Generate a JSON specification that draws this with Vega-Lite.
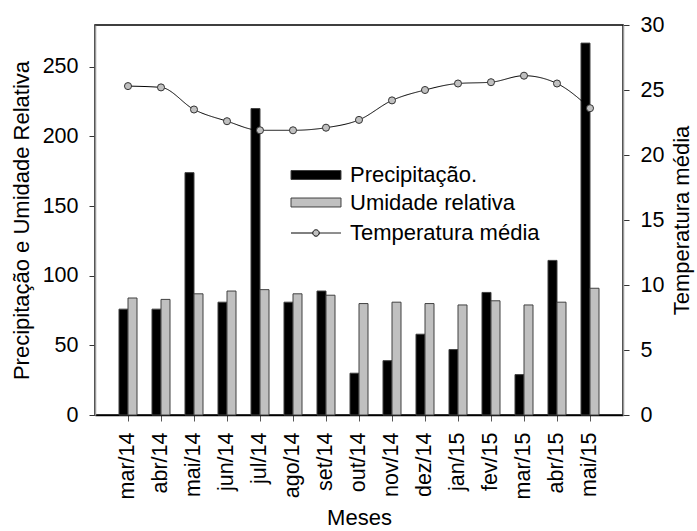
{
  "$schema": "https://vega.github.io/schema/vega-lite/v6.json",
  "width": 528,
  "height": 390,
  "autosize": {"type": "none"},
  "padding": {"left": 95, "top": 25, "right": 74, "bottom": 116},
  "background": "white",
  "config": {
    "font": "Liberation Sans",
    "view": {"stroke": "black", "strokeWidth": 1.5},
    "axis": {"labelFont": "Liberation Sans", "titleFont": "Liberation Sans", "labelFontSize": 21.5, "titleFontSize": 22, "titleFontWeight": "normal", "labelColor": "black", "titleColor": "black", "grid": false},
    "legend": {"labelFont": "Liberation Sans", "labelFontSize": 22, "labelColor": "black", "labelLimit": 0}
  },
  "datasets": {
    "bars": [
      {"mes": "mar/14", "serie": "Precipitação.", "valor": 76},
      {"mes": "mar/14", "serie": "Umidade relativa", "valor": 84},
      {"mes": "abr/14", "serie": "Precipitação.", "valor": 76},
      {"mes": "abr/14", "serie": "Umidade relativa", "valor": 83},
      {"mes": "mai/14", "serie": "Precipitação.", "valor": 174},
      {"mes": "mai/14", "serie": "Umidade relativa", "valor": 87},
      {"mes": "jun/14", "serie": "Precipitação.", "valor": 81},
      {"mes": "jun/14", "serie": "Umidade relativa", "valor": 89},
      {"mes": "jul/14", "serie": "Precipitação.", "valor": 220},
      {"mes": "jul/14", "serie": "Umidade relativa", "valor": 90},
      {"mes": "ago/14", "serie": "Precipitação.", "valor": 81},
      {"mes": "ago/14", "serie": "Umidade relativa", "valor": 87},
      {"mes": "set/14", "serie": "Precipitação.", "valor": 89},
      {"mes": "set/14", "serie": "Umidade relativa", "valor": 86},
      {"mes": "out/14", "serie": "Precipitação.", "valor": 30},
      {"mes": "out/14", "serie": "Umidade relativa", "valor": 80},
      {"mes": "nov/14", "serie": "Precipitação.", "valor": 39},
      {"mes": "nov/14", "serie": "Umidade relativa", "valor": 81},
      {"mes": "dez/14", "serie": "Precipitação.", "valor": 58},
      {"mes": "dez/14", "serie": "Umidade relativa", "valor": 80},
      {"mes": "jan/15", "serie": "Precipitação.", "valor": 47},
      {"mes": "jan/15", "serie": "Umidade relativa", "valor": 79},
      {"mes": "fev/15", "serie": "Precipitação.", "valor": 88},
      {"mes": "fev/15", "serie": "Umidade relativa", "valor": 82},
      {"mes": "mar/15", "serie": "Precipitação.", "valor": 29},
      {"mes": "mar/15", "serie": "Umidade relativa", "valor": 79},
      {"mes": "abr/15", "serie": "Precipitação.", "valor": 111},
      {"mes": "abr/15", "serie": "Umidade relativa", "valor": 81},
      {"mes": "mai/15", "serie": "Precipitação.", "valor": 267},
      {"mes": "mai/15", "serie": "Umidade relativa", "valor": 91}
    ],
    "temps": [
      {"mes": "mar/14", "serie": "Temperatura média", "temp": 25.3},
      {"mes": "abr/14", "serie": "Temperatura média", "temp": 25.2},
      {"mes": "mai/14", "serie": "Temperatura média", "temp": 23.5},
      {"mes": "jun/14", "serie": "Temperatura média", "temp": 22.6},
      {"mes": "jul/14", "serie": "Temperatura média", "temp": 21.9},
      {"mes": "ago/14", "serie": "Temperatura média", "temp": 21.9},
      {"mes": "set/14", "serie": "Temperatura média", "temp": 22.1},
      {"mes": "out/14", "serie": "Temperatura média", "temp": 22.7},
      {"mes": "nov/14", "serie": "Temperatura média", "temp": 24.2},
      {"mes": "dez/14", "serie": "Temperatura média", "temp": 25.0},
      {"mes": "jan/15", "serie": "Temperatura média", "temp": 25.5},
      {"mes": "fev/15", "serie": "Temperatura média", "temp": 25.6},
      {"mes": "mar/15", "serie": "Temperatura média", "temp": 26.1},
      {"mes": "abr/15", "serie": "Temperatura média", "temp": 25.5},
      {"mes": "mai/15", "serie": "Temperatura média", "temp": 23.6}
    ]
  },
  "encoding": {
    "x": {
      "field": "mes", "type": "nominal",
      "sort": ["mar/14","abr/14","mai/14","jun/14","jul/14","ago/14","set/14","out/14","nov/14","dez/14","jan/15","fev/15","mar/15","abr/15","mai/15"],
      "scale": {"paddingInner": 0, "paddingOuter": 0.5},
      "axis": {"title": "Meses", "labelAngle": -90, "labelPadding": 11, "tickSize": 6, "tickColor": "#555", "domainColor": "black", "domainWidth": 1.5, "titlePadding": 9}
    }
  },
  "layer": [
    {
      "data": {"name": "bars"},
      "mark": {"type": "bar", "stroke": "#404040", "strokeWidth": 1},
      "encoding": {
        "xOffset": {"field": "serie", "type": "nominal", "sort": ["Precipitação.", "Umidade relativa"], "scale": {"paddingInner": 0, "paddingOuter": 0.833}},
        "y": {
          "field": "valor", "type": "quantitative",
          "scale": {"domain": [0, 280], "nice": false},
          "axis": {"title": "Precipitação e Umidade Relativa", "orient": "left", "values": [0, 50, 100, 150, 200, 250], "tickSize": 6, "tickColor": "#333", "domainColor": "#999", "domainWidth": 1.5, "labelPadding": 11, "titlePadding": 9}
        },
        "color": {
          "field": "serie", "type": "nominal",
          "scale": {"domain": ["Precipitação.", "Umidade relativa"], "range": ["black", "#c0c0c0"]},
          "legend": {
            "title": null, "orient": "none", "legendX": 210, "legendY": 139,
            "symbolSize": 196, "symbolType": "M-3.57,-0.64H3.57V0.64H-3.57Z", "symbolStrokeWidth": 1,
            "rowPadding": 5.5, "labelOffset": 23, "padding": 0
          }
        }
      }
    },
    {
      "data": {"name": "temps"},
      "layer": [
        {
          "mark": {"type": "line", "interpolate": "monotone", "color": "black", "strokeWidth": 1},
          "encoding": {
            "y": {
              "field": "temp", "type": "quantitative",
              "scale": {"domain": [0, 30], "nice": false},
              "axis": {"title": "Temperatura média", "orient": "right", "titleAngle": 270, "titleBaseline": "top", "values": [0, 5, 10, 15, 20, 25, 30], "tickSize": 6, "tickColor": "#333", "domainColor": "#999", "domainWidth": 1.5, "labelPadding": 11, "titlePadding": 8}
            },
            "strokeDash": {
              "field": "serie", "type": "nominal",
              "scale": {"domain": ["Temperatura média"], "range": [[1, 0]]},
              "legend": {
                "title": null, "orient": "none", "legendX": 210, "legendY": 197,
                "symbolSize": 196,
                "symbolType": "M-3.57,0H-0.46A0.46,0.46,0,1,1,0.46,0H3.57M0.46,0A0.46,0.46,0,1,1,-0.46,0",
                "symbolStrokeColor": "black", "symbolFillColor": "#c0c0c0", "symbolStrokeWidth": 1,
                "labelOffset": 23, "padding": 0
              }
            }
          }
        },
        {
          "mark": {"type": "point", "filled": true, "fill": "#c0c0c0", "stroke": "#333", "strokeWidth": 1, "size": 50, "opacity": 1},
          "encoding": {
            "y": {"field": "temp", "type": "quantitative"}
          }
        }
      ]
    }
  ],
  "resolve": {"scale": {"y": "independent"}}
}
